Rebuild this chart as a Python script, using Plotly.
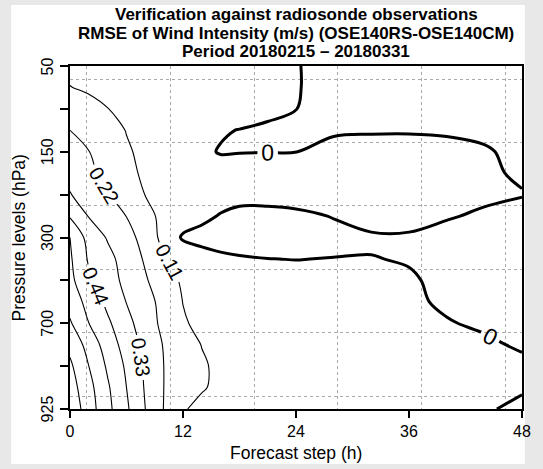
import plotly.graph_objects as go

# Forecast steps (h) of the gridded differences
FORECAST_STEPS = [0, 2, 4, 6, 8, 10, 12, 14, 16, 18, 21, 24, 28, 32, 36, 40, 44, 48]
# vertical position as pressure-level index (0 = 50 hPa at top, 4 = 925 hPa at bottom)
LEVEL_INDEX = [0, 0.25, 0.5, 0.75, 1.0, 1.25, 1.5, 1.75, 2.0, 2.25, 2.5, 2.75, 3.0, 3.25, 3.5, 3.75, 4.0]

# RMSE difference (m/s), one row per level index
row_000 = [0.090, 0.082, 0.074, 0.066, 0.058, 0.050, 0.044, 0.038, 0.032, 0.026, 0.016, 0.003, -0.020, -0.030, -0.035, -0.040, -0.040, -0.035]
row_025 = [0.112, 0.098, 0.086, 0.075, 0.065, 0.055, 0.048, 0.041, 0.034, 0.027, 0.016, 0.004, -0.025, -0.035, -0.040, -0.040, -0.040, -0.035]
row_050 = [0.160, 0.136, 0.111, 0.097, 0.084, 0.070, 0.062, 0.053, 0.045, 0.035, 0.020, 0.001, -0.030, -0.040, -0.045, -0.045, -0.045, -0.040]
row_075 = [0.220, 0.182, 0.144, 0.107, 0.085, 0.065, 0.048, 0.030, 0.006, -0.002, -0.014, -0.020, -0.006, -0.004, -0.004, -0.006, -0.012, -0.030]
row_100 = [0.260, 0.222, 0.175, 0.120, 0.090, 0.060, 0.035, 0.012, -0.004, -0.002, -0.001, -0.0005, 0.015, 0.018, 0.020, 0.015, 0.006, -0.015]
row_125 = [0.300, 0.243, 0.189, 0.138, 0.092, 0.065, 0.045, 0.032, 0.028, 0.028, 0.030, 0.030, 0.030, 0.030, 0.030, 0.025, 0.012, -0.010]
row_150 = [0.335, 0.280, 0.225, 0.166, 0.108, 0.075, 0.050, 0.038, 0.030, 0.028, 0.028, 0.030, 0.030, 0.030, 0.030, 0.022, 0.012, 0.004]
row_175 = [0.430, 0.325, 0.274, 0.218, 0.139, 0.085, 0.050, 0.018, -0.005, -0.024, -0.024, -0.015, 0.003, 0.030, 0.030, 0.005, -0.009, -0.030]
row_200 = [0.550, 0.399, 0.321, 0.260, 0.179, 0.075, -0.012, -0.025, -0.030, -0.032, -0.032, -0.030, -0.020, -0.010, -0.010, -0.020, -0.035, -0.040]
row_225 = [0.565, 0.427, 0.360, 0.287, 0.207, 0.119, 0.075, 0.032, 0.014, 0.006, 0.0007, -0.001, 0.0017, 0.0025, -0.005, -0.025, -0.035, -0.040]
row_250 = [0.580, 0.458, 0.376, 0.302, 0.231, 0.156, 0.095, 0.065, 0.048, 0.035, 0.025, 0.020, 0.020, 0.018, 0.008, -0.017, -0.030, -0.035]
row_275 = [0.620, 0.512, 0.414, 0.327, 0.258, 0.186, 0.108, 0.075, 0.058, 0.045, 0.035, 0.030, 0.028, 0.024, 0.014, -0.012, -0.025, -0.030]
row_300 = [0.672, 0.551, 0.458, 0.364, 0.273, 0.192, 0.121, 0.085, 0.065, 0.052, 0.042, 0.036, 0.032, 0.028, 0.020, 0.005, -0.012, -0.020]
row_325 = [0.740, 0.621, 0.497, 0.396, 0.295, 0.212, 0.160, 0.107, 0.078, 0.062, 0.050, 0.043, 0.038, 0.034, 0.028, 0.022, 0.013, -0.010]
row_350 = [0.790, 0.660, 0.534, 0.423, 0.312, 0.218, 0.172, 0.124, 0.085, 0.068, 0.055, 0.048, 0.042, 0.038, 0.034, 0.030, 0.024, 0.018]
row_375 = [0.820, 0.695, 0.564, 0.440, 0.320, 0.218, 0.170, 0.120, 0.085, 0.065, 0.050, 0.040, 0.032, 0.026, 0.020, 0.014, 0.008, 0.003]
row_400 = [0.850, 0.712, 0.579, 0.457, 0.330, 0.215, 0.120, 0.080, 0.060, 0.048, 0.038, 0.030, 0.022, 0.016, 0.012, 0.008, 0.003, -0.006]

Z = [row_000, row_025, row_050, row_075, row_100, row_125, row_150, row_175, row_200,
     row_225, row_250, row_275, row_300, row_325, row_350, row_375, row_400]

X_TICKS = [0, 12, 24, 36, 48]
Y_TICK_POS = [0, 0.5, 1, 1.5, 2, 2.5, 3, 3.5, 4]
Y_LABEL_POS = [0, 1, 2, 3, 4]
Y_LABEL_TEXT = ["50", "150", "300", "700", "925"]

TITLE_LINES = ["Verification against radiosonde observations",
               "RMSE of Wind Intensity (m/s) (OSE140RS-OSE140CM)",
               "Period 20180215 \u2013 20180331"]

FONT = "Liberation Sans, Arial, Helvetica, sans-serif"
BLACK_SCALE = [[0, "black"], [1, "black"]]

fig = go.Figure()
fig.add_trace(go.Contour(
    x=FORECAST_STEPS, y=LEVEL_INDEX, z=Z,
    autocontour=False,
    contours=dict(coloring="lines", start=0.11, end=0.88, size=0.11,
                  showlabels=True, labelformat=".2f",
                  labelfont=dict(family=FONT, size=20, color="black")),
    colorscale=BLACK_SCALE, showscale=False,
    line=dict(width=1.1), hoverinfo="skip"))
fig.add_trace(go.Contour(
    x=FORECAST_STEPS, y=LEVEL_INDEX, z=Z,
    autocontour=False,
    contours=dict(coloring="lines", start=0, end=0.05, size=0.11,
                  showlabels=True, labelformat=".0f",
                  labelfont=dict(family=FONT, size=23, color="black")),
    colorscale=BLACK_SCALE, showscale=False,
    line=dict(width=3), hoverinfo="skip"))

L, R, T, B = 70, 13, 66, 60
W, H = 543, 469
pw, ph = W - L - R, H - T - B

def px_to_paper_x(px):
    return (px - L) / pw

def px_to_paper_y(py):
    return (H - B - py) / ph

annotations = []
for i, line in enumerate(TITLE_LINES):
    annotations.append(dict(text="<b>%s</b>" % line, xref="paper", yref="paper",
                            x=0.5, y=px_to_paper_y(14 + 19 * i), xanchor="center",
                            yanchor="middle", showarrow=False,
                            font=dict(family=FONT, size=17, color="black")))
annotations.append(dict(text="Forecast step (h)", xref="paper", yref="paper",
                        x=0.5, y=px_to_paper_y(453), xanchor="center", yanchor="middle",
                        showarrow=False, font=dict(family=FONT, size=17.5, color="black")))
annotations.append(dict(text="Pressure levels (hPa)", xref="paper", yref="paper",
                        x=px_to_paper_x(18), y=0.5, xanchor="center", yanchor="middle",
                        textangle=-90, showarrow=False,
                        font=dict(family=FONT, size=17.5, color="black")))
for pos, txt in zip(Y_LABEL_POS, Y_LABEL_TEXT):
    annotations.append(dict(text=txt, xref="paper", yref="y", x=px_to_paper_x(47), y=pos,
                            xanchor="center", yanchor="middle", textangle=-90,
                            showarrow=False, font=dict(family=FONT, size=16, color="black")))

fig.update_layout(
    width=W, height=H,
    margin=dict(l=L, r=R, t=T, b=B),
    paper_bgcolor="#e8e8e8", plot_bgcolor="white",
    showlegend=False,
    annotations=annotations,
    shapes=[dict(type="rect", xref="paper", yref="paper",
                 x0=px_to_paper_x(10), x1=px_to_paper_x(533),
                 y0=px_to_paper_y(464), y1=px_to_paper_y(5),
                 fillcolor="white", line=dict(width=0), layer="below")],
    xaxis=dict(range=[0, 48], tickvals=X_TICKS, ticktext=[str(v) for v in X_TICKS],
               ticks="outside", ticklen=7, tickwidth=1.5, tickcolor="black",
               showline=True, linecolor="black", linewidth=2, mirror=True,
               showgrid=False, zeroline=False,
               tickfont=dict(family=FONT, size=16, color="black"),
               minor=dict(tick0=1.8, dtick=8.88, showgrid=True, gridcolor="#aaaaaa",
                          griddash="dot", gridwidth=1, ticks="")),
    yaxis=dict(range=[4, 0], tickvals=Y_TICK_POS, showticklabels=False,
               ticks="outside", ticklen=8, tickwidth=1.5, tickcolor="black",
               showline=True, linecolor="black", linewidth=2, mirror=True,
               showgrid=False, zeroline=False,
               minor=dict(tick0=0.152, dtick=0.74, showgrid=True, gridcolor="#aaaaaa",
                          griddash="dot", gridwidth=1, ticks="")),
)

fig.write_html("out.html")
